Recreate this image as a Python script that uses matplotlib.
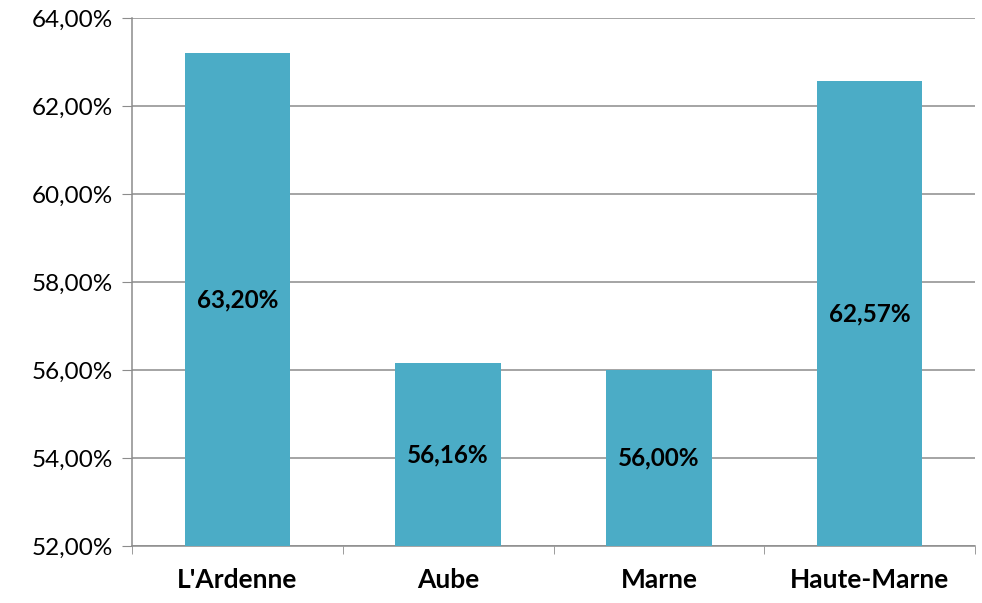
import matplotlib.pyplot as plt
from matplotlib.ticker import FuncFormatter, FixedLocator
import numpy as np

# data
departements = ["L'Ardenne", "Aube", "Marne", "Haute-Marne"]
taux = [63.20, 56.16, 56.00, 62.57]

plt.rcParams['font.family'] = ['Lato', 'DejaVu Sans']

fig = plt.figure(figsize=(9.82, 6.03), dpi=100)
ax = fig.add_axes([0.1344, 0.0945, 0.8585, 0.8756])

x = np.arange(len(departements))
bars = ax.bar(x, [t - 52 for t in taux], bottom=52, width=0.5, color='#4BACC6', zorder=3)

# labels in the middle of the bars
for xi, t in zip(x, taux):
    lab = f"{t:.2f}%".replace('.', ',')
    ax.text(xi, (52 + t) / 2, lab, ha='center', va='center', fontsize=17.5,
            fontweight='bold', color='black', zorder=4)

ax.set_ylim(52, 64)
ax.set_xlim(-0.5, len(departements) - 0.5)
ax.set_yticks(np.arange(52, 64.1, 2))
ax.yaxis.set_major_formatter(FuncFormatter(lambda v, p: f"{v:.2f}%".replace('.', ',')))
ax.set_xticks(x)
ax.set_xticklabels(departements, fontsize=19, fontweight='bold')
ax.xaxis.set_minor_locator(FixedLocator(np.arange(-0.5, len(departements), 1)))

ax.grid(axis='y', color='#8c8c8c', linewidth=1.1, zorder=0)
for s in ['top', 'right']:
    ax.spines[s].set_visible(False)
for s in ['left', 'bottom']:
    ax.spines[s].set_color('#8c8c8c')
    ax.spines[s].set_linewidth(1.1)

ax.tick_params(axis='y', length=7, color='#8c8c8c', labelsize=17.5, pad=7)
ax.tick_params(axis='x', which='major', length=0, pad=16)
ax.tick_params(axis='x', which='minor', length=6, color='#8c8c8c')

fig.savefig('out.png', dpi=100)
